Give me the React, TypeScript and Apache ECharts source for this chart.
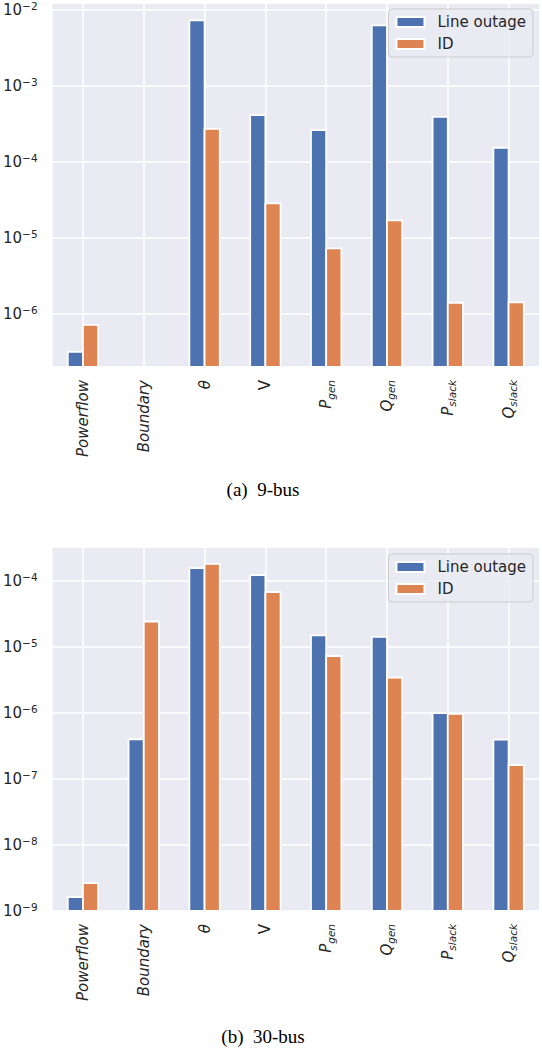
import { useEffect, useRef } from "react";
import * as echarts from "echarts";

const categories = ["Powerflow", "Boundary", "θ", "V", "P_gen", "Q_gen", "P_slack", "Q_slack"];
const seriesNames = ["Line outage", "ID"];

// 9-bus (a)
const bus9LineOutage = [3.2e-7, null, 7.2e-3, 4.1e-4, 2.6e-4, 6.2e-3, 3.9e-4, 1.53e-4];
const bus9ID = [7.2e-7, null, 2.7e-4, 2.85e-5, 7.3e-6, 1.7e-5, 1.41e-6, 1.43e-6];

// 30-bus (b)
const bus30LineOutage = [1.63e-9, 4.0e-7, 1.56e-4, 1.23e-4, 1.5e-5, 1.42e-5, 1.0e-6, 3.95e-7];
const bus30ID = [2.65e-9, 2.43e-5, 1.81e-4, 6.8e-5, 7.3e-6, 3.43e-6, 9.7e-7, 1.63e-7];

const captions = ["(a)  9-bus", "(b)  30-bus"];

const BLUE = "#4C72B0";
const ORANGE = "#DD8452";
const TEXT = "#262626";
const FONT = "DejaVu Sans";

const yLabel = (v: number) => {
  const e = Math.log10(v);
  const r = Math.round(e);
  if (Math.abs(e - r) > 1e-6) return "";
  return `{b|10}{s|${r < 0 ? "\u2212" : ""}${Math.abs(r)}}`;
};

const xLabel = (name: string) => {
  if (name.includes("_")) {
    const [base, sub] = name.split("_");
    return `{it|${base}}{sub|${sub}}`;
  }
  if (name === "V") return `{up|V}`;
  return `{it|${name}}`;
};

const renderBar = (side: number, color: string) => (params: any, api: any) => {
  const v = api.value(1);
  if (!(v > 0)) return null;
  const cs = params.coordSys;
  const catW = cs.width / categories.length;
  const barW = catW * 0.25;
  const pt = api.coord([api.value(0), v]);
  const bottom = cs.y + cs.height;
  const x = side < 0 ? pt[0] - barW : pt[0];
  return {
    type: "rect",
    shape: { x, y: pt[1], width: barW, height: bottom - pt[1] },
    style: { fill: color, stroke: "#fff", lineWidth: 1.8 },
  };
};

export default function App() {
  const ref = useRef<HTMLDivElement>(null);

  useEffect(() => {
    document.body.style.margin = "0";
    if (!ref.current) return;
    const chart = echarts.init(ref.current, undefined, { renderer: "svg" });

    const grids = [
      { left: 50, top: 2, width: 489, height: 365 },
      { left: 50, top: 547, width: 489, height: 364 },
    ];
    const yRanges = [
      { min: 2.02e-7, max: 0.0121 },
      { min: 1e-9, max: 3.27e-4 },
    ];
    const data = [
      [bus9LineOutage, bus9ID],
      [bus30LineOutage, bus30ID],
    ];

    chart.setOption({
      animation: false,
      textStyle: { fontFamily: FONT },
      grid: grids.map((g) => ({
        ...g,
        show: true,
        backgroundColor: "#EAEAF2",
        borderWidth: 0,
      })),
      xAxis: grids.map((_, gi) => ({
        type: "category",
        gridIndex: gi,
        data: categories,
        axisLine: { show: false },
        axisTick: { show: false },
        splitLine: {
          show: true,
          alignWithLabel: true,
          lineStyle: { color: "#fff", width: 1.5 },
        },
        axisLabel: {
          interval: 0,
          rotate: 90,
          margin: 13,
          color: TEXT,
          formatter: xLabel,
          rich: {
            it: { fontSize: 15, fontStyle: "italic", lineHeight: 17, color: TEXT, fontFamily: FONT },
            up: { fontSize: 15, lineHeight: 17, color: TEXT, fontFamily: FONT },
            sub: {
              fontSize: 10.5,
              fontStyle: "italic",
              lineHeight: 12,
              padding: [9, 0, 0, 0],
              color: TEXT,
              fontFamily: FONT,
            },
          },
        },
      })),
      yAxis: grids.map((_, gi) => ({
        type: "log",
        logBase: 10,
        gridIndex: gi,
        min: yRanges[gi].min,
        max: yRanges[gi].max,
        axisLine: { show: false },
        axisTick: { show: false },
        splitLine: { show: true, lineStyle: { color: "#fff", width: 1.5 } },
        axisLabel: {
          margin: 15,
          color: TEXT,
          formatter: yLabel,
          rich: {
            b: { fontSize: 15, lineHeight: 17, color: TEXT, fontFamily: FONT },
            s: {
              fontSize: 10.5,
              lineHeight: 12,
              padding: [0, 0, 8, 0],
              color: TEXT,
              fontFamily: FONT,
            },
          },
        },
      })),
      legend: [9, 554].map((top) => ({
        top,
        right: 9,
        orient: "vertical",
        data: seriesNames,
        icon: "rect",
        itemWidth: 28,
        itemHeight: 10,
        itemGap: 4,
        padding: [4, 7, 4, 7],
        backgroundColor: "rgba(234,234,242,0.8)",
        borderColor: "#cccccc",
        borderWidth: 1,
        borderRadius: 4,
        selectedMode: false,
        textStyle: {
          fontSize: 15,
          lineHeight: 18,
          color: TEXT,
          fontFamily: FONT,
          padding: [0, 0, 0, 8],
        },
      })),
      series: data.flatMap((pair, gi) =>
        pair.map((vals, si) => {
          const color = si === 0 ? BLUE : ORANGE;
          return {
            name: seriesNames[si],
            type: "custom",
            xAxisIndex: gi,
            yAxisIndex: gi,
            encode: { x: 0, y: 1 },
            itemStyle: { color, borderColor: "#fff", borderWidth: 1.5 },
            renderItem: renderBar(si === 0 ? -1 : 1, color),
            data: vals.map((v, i) => [i, v == null ? "-" : v]),
          };
        }),
      ),
      graphic: captions.map((text, i) => ({
        type: "text",
        x: 263,
        y: i === 0 ? 489 : 1036,
        style: {
          text,
          fontSize: 19,
          fontFamily: "Liberation Serif",
          fill: "#000",
          align: "center",
          verticalAlign: "middle",
        },
      })),
    });

    return () => chart.dispose();
  }, []);

  return <div ref={ref} style={{ width: 542, height: 1056 }} />;
}
